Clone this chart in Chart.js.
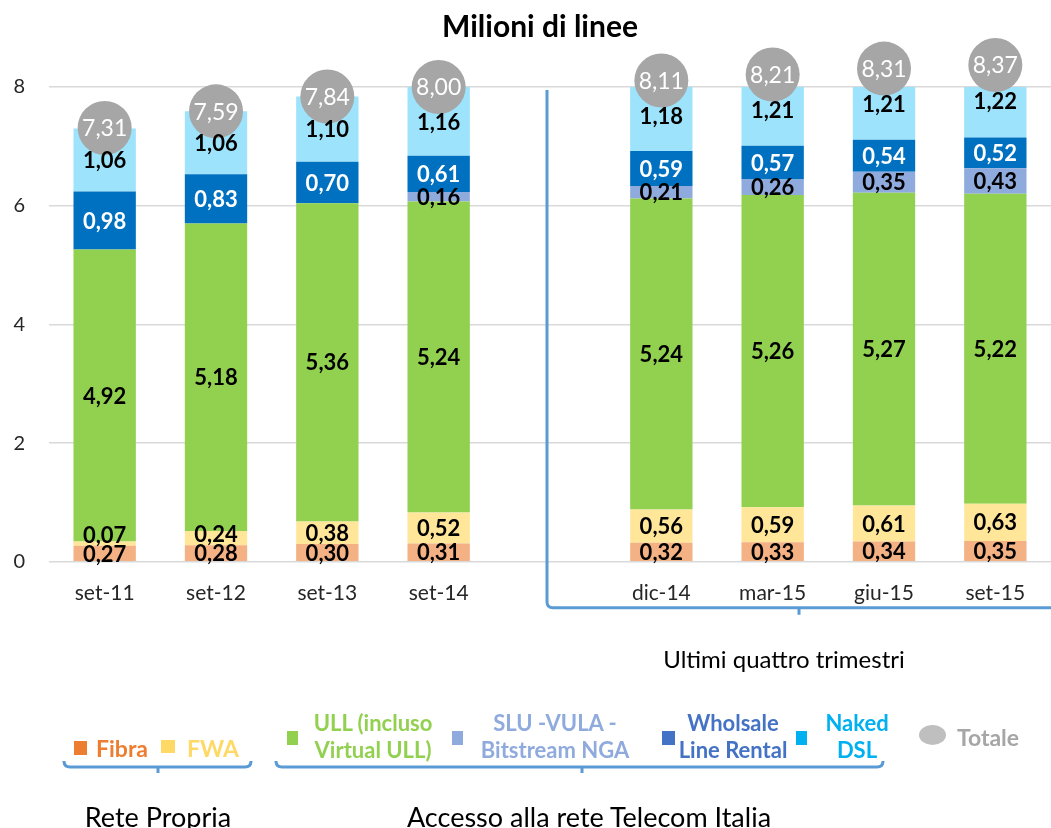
<!DOCTYPE html>
<html>
<head>
<meta charset="utf-8">
<script src="https://cdn.jsdelivr.net/npm/chart.js@4/dist/chart.umd.min.js"></script>
<style>
  body { margin: 0; background: #fff; font-family: Lato, "Open Sans", sans-serif; }
  #wrap { position: relative; width: 1051px; height: 828px; overflow: hidden; }
  #c { position: absolute; left: 0; top: 0; }
  .t { position: absolute; white-space: nowrap; transform: translate(-50%, -50%); }
  .leg { font-weight: bold; font-size: 22px; line-height: 27px; text-align: center; }
  .mk { position: absolute; }
  svg { position: absolute; left: 0; top: 0; }
</style>
</head>
<body>
<div id="wrap">
  <canvas id="c" width="1051" height="828"></canvas>
  <div class="t" style="left:540px;top:25px;font-weight:bold;font-size:30px;color:#000">Milioni di linee</div>
  <div class="t" style="left:784px;top:658px;font-size:24px;color:#000">Ultimi quattro trimestri</div>

  <!-- legend -->
  <div class="mk" style="left:74px;top:741px;width:13px;height:14px;background:#ed7d31"></div>
  <div class="t leg" style="left:122px;top:748px;color:#ed7d31;font-size:23px">Fibra</div>
  <div class="mk" style="left:161px;top:740px;width:14px;height:13px;background:#ffd966"></div>
  <div class="t leg" style="left:213px;top:748px;color:#ffd966;font-size:23px">FWA</div>
  <div class="mk" style="left:287px;top:731px;width:11px;height:14px;background:#92d050"></div>
  <div class="t leg" style="left:373px;top:736px;color:#92d050">ULL (incluso<br>Virtual ULL)</div>
  <div class="mk" style="left:452px;top:731px;width:11px;height:14px;background:#8faadc"></div>
  <div class="t leg" style="left:555px;top:736px;color:#8faadc">SLU -VULA -<br>Bitstream NGA</div>
  <div class="mk" style="left:662px;top:731px;width:13px;height:14px;background:#4472c4"></div>
  <div class="t leg" style="left:733px;top:736px;color:#4472c4">Wholsale<br>Line Rental</div>
  <div class="mk" style="left:796px;top:731px;width:11px;height:14px;background:#00b0f0"></div>
  <div class="t leg" style="left:857px;top:736px;color:#00b0f0">Naked<br>DSL</div>
  <div class="mk" style="left:919px;top:725px;width:27px;height:20px;border-radius:50%;background:#bfbfbf"></div>
  <div class="t leg" style="left:988px;top:737px;color:#a6a6a6;font-size:23px">Totale</div>

  <svg width="1051" height="828">
    <path d="M64,761 Q64,767 70,767 L245,767 Q251,767 251,761 M158,767 L158,773" fill="none" stroke="#5b9bd5" stroke-width="3"/>
    <path d="M276,761 Q276,767 282,767 L877,767 Q883,767 883,761 M582,767 L582,773" fill="none" stroke="#5b9bd5" stroke-width="3"/>
  </svg>

  <div class="t" style="left:158px;top:816px;font-size:27px;color:#000">Rete Propria</div>
  <div class="t" style="left:589px;top:816px;font-size:27px;color:#000">Accesso alla rete Telecom Italia</div>
</div>

<script>
// Data (milioni di linee)
const categories = ["set-11", "set-12", "set-13", "set-14", "", "dic-14", "mar-15", "giu-15", "set-15"];
const fibra     = [0.27, 0.28, 0.30, 0.31, null, 0.32, 0.33, 0.34, 0.35];
const fwa       = [0.07, 0.24, 0.38, 0.52, null, 0.56, 0.59, 0.61, 0.63];
const ull       = [4.92, 5.18, 5.36, 5.24, null, 5.24, 5.26, 5.27, 5.22];
const sluVula   = [null, null, null, 0.16, null, 0.21, 0.26, 0.35, 0.43];
const wholesale = [0.98, 0.83, 0.70, 0.61, null, 0.59, 0.57, 0.54, 0.52];
const nakedDsl  = [1.06, 1.06, 1.10, 1.16, null, 1.18, 1.21, 1.21, 1.22];
const totale    = [7.31, 7.59, 7.84, 8.00, null, 8.11, 8.21, 8.31, 8.37];
const yTicks    = [0, 2, 4, 6, 8];

const fmt = v => v.toFixed(2).replace(".", ",");

function barSet(label, data, color, textColor) {
    return {
        type: "bar",
        label: label,
        data: data,
        backgroundColor: color,
        borderWidth: 0,
        stack: "linee",
        order: 1,
        textColor: textColor
    };
}

// Labels inside the segments + on the grey circles
const labelPlugin = {
    id: "labels",
    afterDatasetsDraw(chart) {
        const ctx = chart.ctx;
        ctx.save();
        ctx.textAlign = "center";
        ctx.textBaseline = "middle";
        const lastY = {};
        chart.data.datasets.forEach((ds, i) => {
            const meta = chart.getDatasetMeta(i);
            meta.data.forEach((el, j) => {
                const v = ds.data[j];
                if (v == null) return;
                if (ds.type === "line") {
                    ctx.font = "23px Lato";
                    ctx.fillStyle = "#fff";
                    ctx.fillText(fmt(v), el.x, el.y + 1);
                    return;
                }
                let y = (el.y + el.base) / 2 + 1;
                if (lastY[j] !== undefined && y > lastY[j] - 19) y = lastY[j] - 19;
                lastY[j] = y;
                ctx.font = "bold 22px Lato";
                ctx.fillStyle = ds.textColor;
                ctx.fillText(fmt(v), el.x, y);
            });
        });
        ctx.restore();
    }
};

// Bracket around the last four quarters
const bracketPlugin = {
    id: "bracket",
    afterDraw(chart) {
        const ctx = chart.ctx;
        const x = chart.scales.x.getPixelForValue(4) - 3;
        const yb = chart.chartArea.bottom + 46;
        const right = chart.width;
        ctx.save();
        ctx.strokeStyle = "#5b9bd5";
        ctx.lineWidth = 3;
        ctx.beginPath();
        ctx.moveTo(x, 90);
        ctx.lineTo(x, yb - 6);
        ctx.quadraticCurveTo(x, yb, x + 6, yb);
        ctx.lineTo(right, yb);
        const mid = (x + right) / 2;
        ctx.moveTo(mid, yb);
        ctx.lineTo(mid, yb + 7);
        ctx.stroke();
        ctx.restore();
    }
};

new Chart(document.getElementById("c"), {
    data: {
        labels: categories,
        datasets: [
            {
                type: "line",
                label: "Totale",
                data: totale,
                showLine: false,
                pointRadius: 27,
                pointHoverRadius: 27,
                pointBackgroundColor: "#a6a6a6",
                pointBorderWidth: 0,
                stack: "tot",
                order: 0,
                clip: false
            },
            barSet("Fibra", fibra, "#f4b183", "#000"),
            barSet("FWA", fwa, "#ffe699", "#000"),
            barSet("ULL (incluso Virtual ULL)", ull, "#92d050", "#000"),
            barSet("SLU -VULA - Bitstream NGA", sluVula, "#8faadc", "#000"),
            barSet("Wholsale Line Rental", wholesale, "#0070c0", "#fff"),
            barSet("Naked DSL", nakedDsl, "#9de3fb", "#000")
        ]
    },
    options: {
        responsive: false,
        animation: false,
        layout: { autoPadding: false, padding: { top: 87, left: 13, right: 0, bottom: 211 } },
        datasets: { bar: { categoryPercentage: 1, barPercentage: 0.56 } },
        plugins: {
            legend: { display: false },
            title: { display: false },
            tooltip: { enabled: false }
        },
        scales: {
            x: {
                stacked: true,
                grid: { display: false },
                border: { display: false },
                ticks: { color: "#262626", font: { family: "Lato", size: 21 }, padding: 11 },
                afterFit: axis => { axis.paddingLeft = 0; axis.paddingRight = 0; }
            },
            y: {
                stacked: true,
                min: 0,
                max: 8,
                afterBuildTicks: axis => { axis.ticks = yTicks.map(v => ({ value: v })); },
                afterFit: axis => { axis.width = 36; },
                grid: { color: "#d9d9d9", lineWidth: 1.5, drawTicks: false },
                border: { display: false },
                ticks: { color: "#262626", font: { family: "Lato", size: 20 }, padding: 24 }
            }
        }
    },
    plugins: [labelPlugin, bracketPlugin]
});
</script>
</body>
</html>
